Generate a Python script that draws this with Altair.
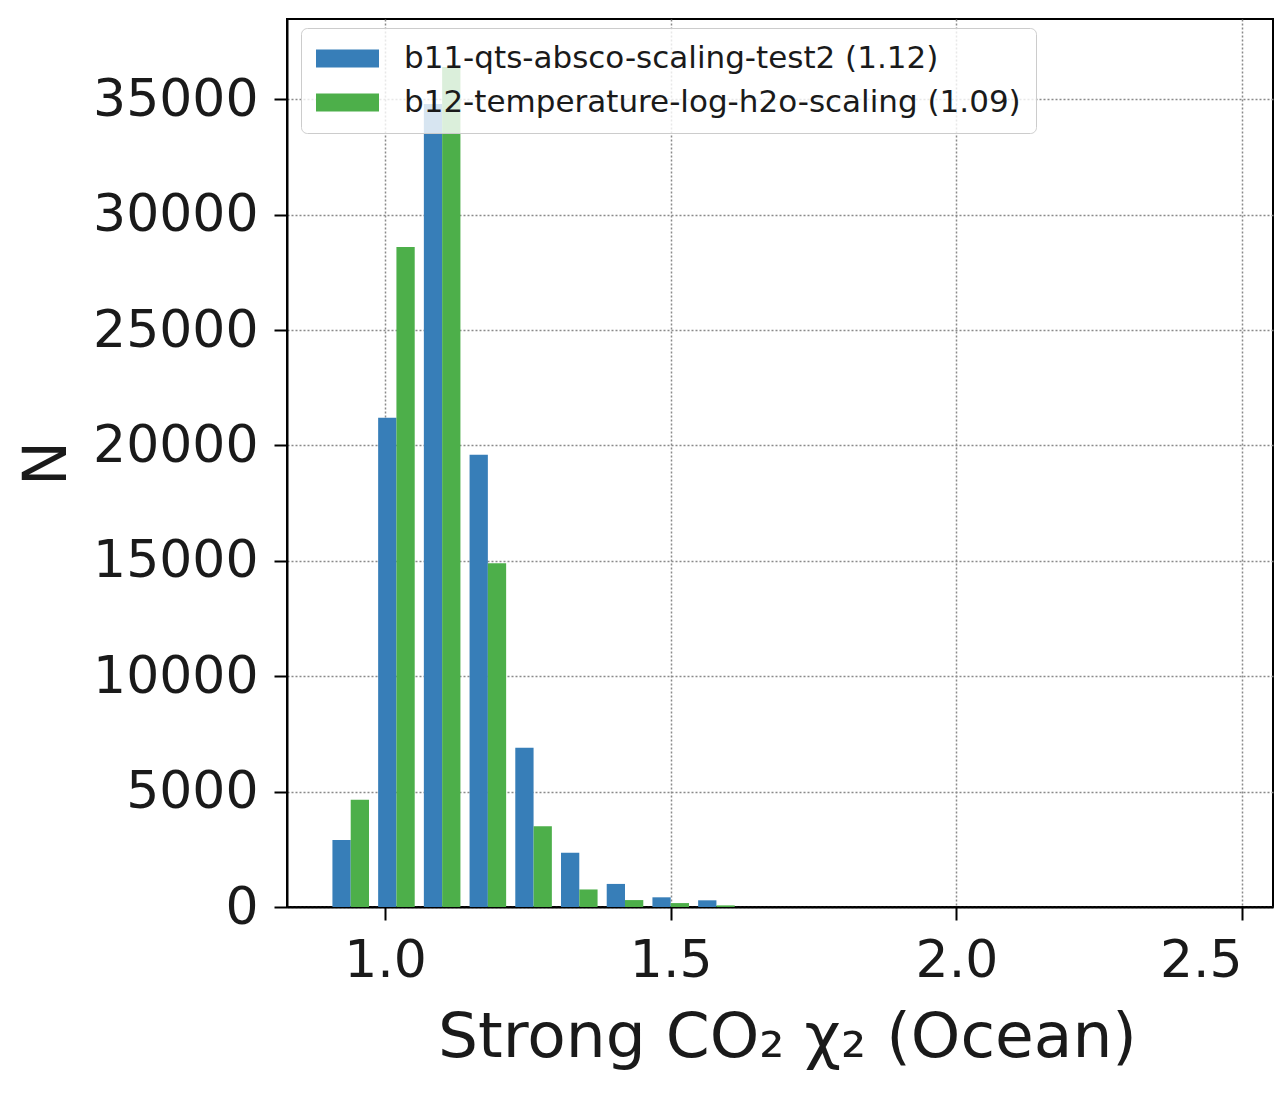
import altair as alt
import pandas as pd

# Data (bin width 0.08, bins 0.9 .. 2.5)
bin_left = [0.90, 0.98, 1.06, 1.14, 1.22, 1.30, 1.38, 1.46, 1.54, 1.62,
            1.70, 1.78, 1.86, 1.94, 2.02, 2.10, 2.18, 2.26, 2.34, 2.42]
series_names = ["b11-qts-absco-scaling-test2 (1.12)",
                "b12-temperature-log-h2o-scaling (1.09)"]
counts_b11 = [2900, 21200, 34800, 19600, 6900, 2350, 1000, 420, 290, 0,
              0, 0, 0, 0, 0, 0, 0, 0, 0, 0]
counts_b12 = [4650, 28600, 36400, 14900, 3500, 760, 300, 170, 70, 0,
              0, 0, 0, 0, 0, 0, 0, 0, 0, 0]
colors = ["#377eb8", "#4daf4a"]
bin_width = 0.08

rows = []
for idx, (name, counts) in enumerate(zip(series_names, [counts_b11, counts_b12])):
    for b, c in zip(bin_left, counts):
        rows.append({"series": name, "idx": idx, "bin_start": b, "count": c})
df = pd.DataFrame(rows)

font = "DejaVu Sans"

bars = alt.Chart(df).transform_calculate(
    x0=f"datum.bin_start + {bin_width}*0.1 + datum.idx*{bin_width}*0.4",
    x1=f"datum.bin_start + {bin_width}*0.1 + (datum.idx+1)*{bin_width}*0.4",
).mark_rect().encode(
    x=alt.X("x0:Q",
            scale=alt.Scale(domain=[0.8285, 2.554], nice=False, zero=False),
            axis=alt.Axis(values=[1.0, 1.5, 2.0, 2.5], format=".1f",
                          title="Strong CO₂ χ₂ (Ocean)", titlePadding=20,
                          titleX=500, labelPadding=15, labelFlush=40)),
    x2="x1:Q",
    y=alt.Y("count:Q",
            scale=alt.Scale(domain=[0, 38480], nice=False),
            axis=alt.Axis(values=list(range(0, 35001, 5000)), format="d",
                          title="N", titlePadding=14, labelPadding=16,
                          titleFontSize=60)),
    y2=alt.datum(0),
    color=alt.Color("series:N",
                    scale=alt.Scale(domain=series_names, range=colors),
                    legend=alt.Legend(title=None, orient="none",
                                      legendX=14, legendY=9)),
)

chart = bars.properties(
    width=986, height=888,
    autosize=alt.AutoSizeParams(type="none"),
    padding={"left": 279, "top": 11, "right": 1, "bottom": 180},
).configure_view(
    stroke="black", strokeWidth=2
).configure_axis(
    labelFont=font, labelFontSize=52, labelColor="#1a1a1a",
    titleFont=font, titleFontSize=63, titleFontWeight="normal", titleColor="#1a1a1a",
    grid=True, gridColor="#8a8a8a", gridDash=[2, 2], gridWidth=1.5,
    domainColor="black", domainWidth=2,
    tickColor="black", tickWidth=2, tickSize=13,
    zindex=1,
).configure_legend(
    labelFont=font, labelFontSize=31, labelColor="#1a1a1a", labelLimit=2000,
    symbolType="M-1.033,-0.6L3.167,-0.6L3.167,0.6L-1.033,0.6Z", symbolSize=900,
    symbolStrokeWidth=0, labelOffset=57, padding=15, rowPadding=12,
    fillColor="rgba(255,255,255,0.8)", strokeColor="#cccccc", cornerRadius=6,
)

chart.save("out.html", embed_options={"renderer": "svg", "actions": False})
